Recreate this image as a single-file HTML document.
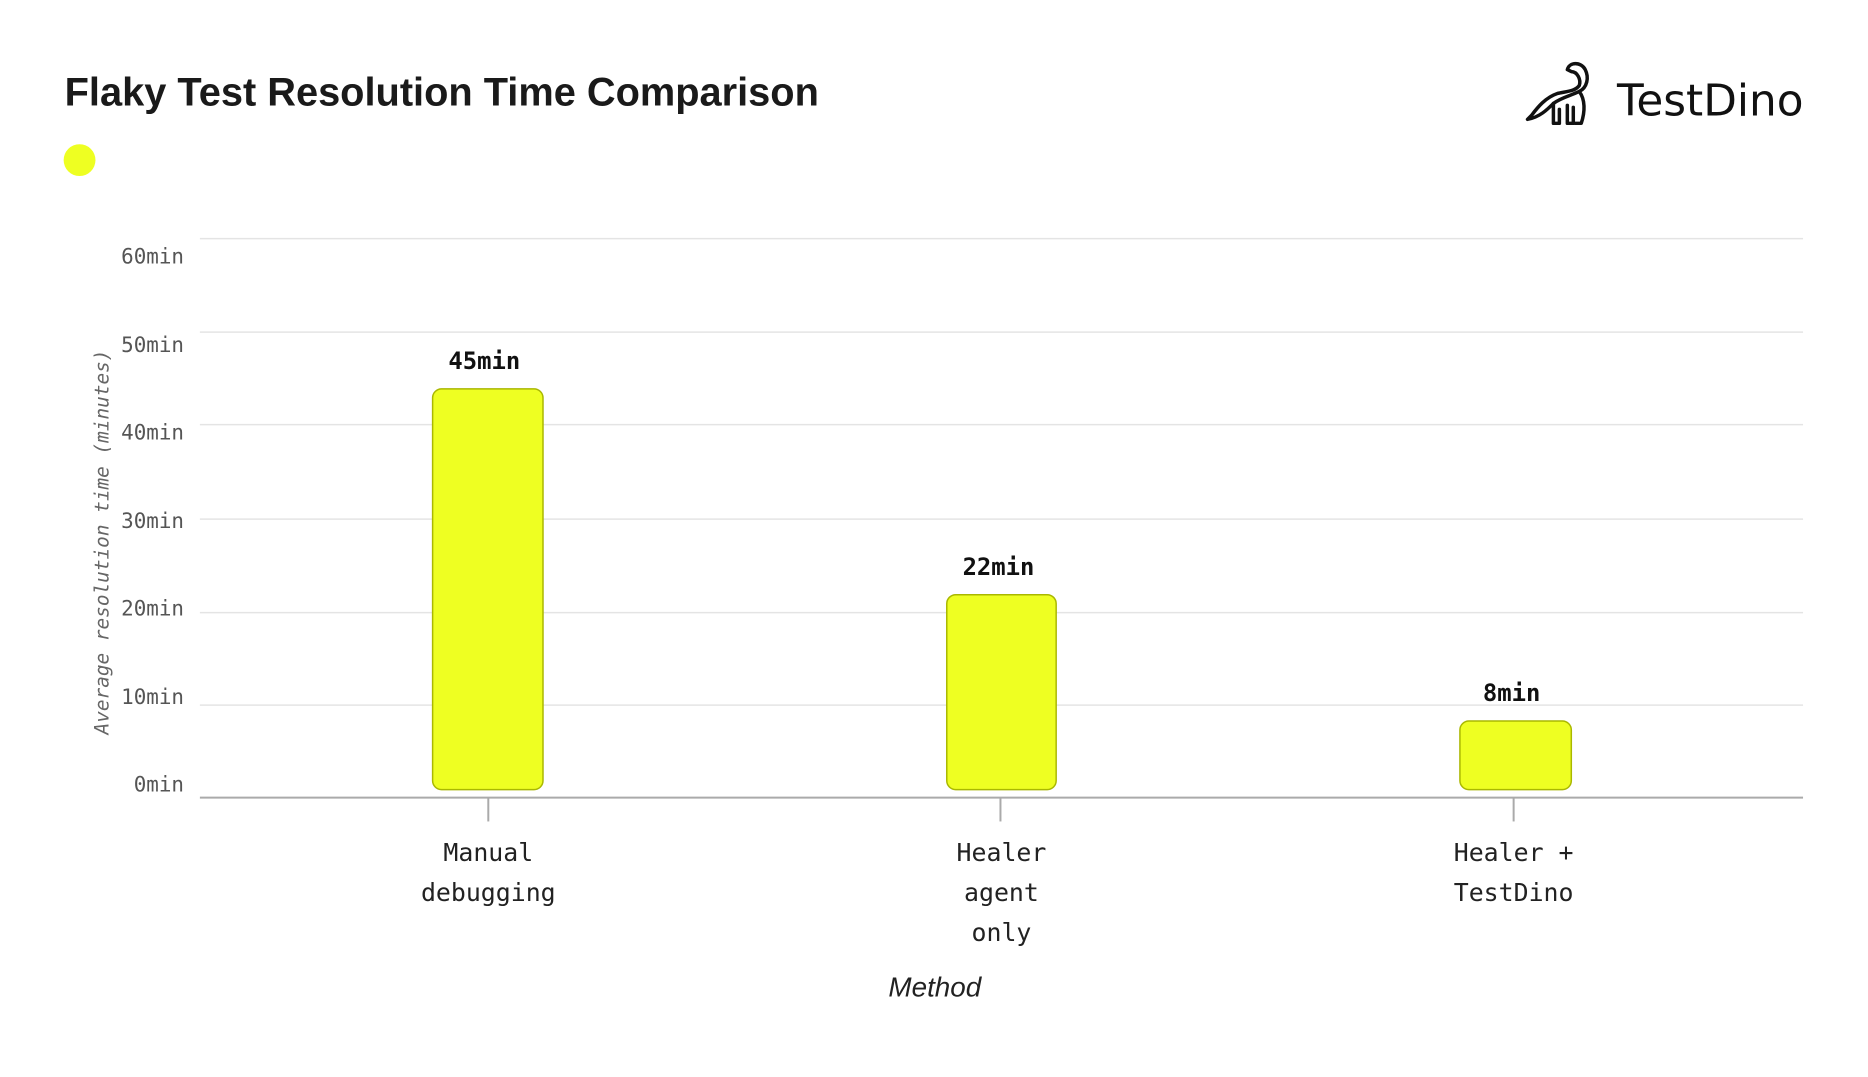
<!DOCTYPE html>
<html><head><meta charset="utf-8"><style>
html,body{margin:0;padding:0;background:#fff;}
</style></head><body>
<svg width="1868" height="1072" viewBox="0 0 1868 1072" xmlns="http://www.w3.org/2000/svg">
<rect width="1868" height="1072" fill="#fff"/>
<g transform="scale(0.9945)">
<text x="65" y="106" font-family="Liberation Sans, sans-serif" font-weight="bold" font-size="40" fill="#1a1a1a">Flaky Test Resolution Time Comparison</text>
<circle cx="80" cy="161" r="16" fill="#eeff22"/>
<g fill="none" stroke="#111" stroke-width="3.5" stroke-linecap="round" stroke-linejoin="round">
<path d="M1536 120 C1548 118 1556 110 1562 104 C1570 98 1580 96 1588 92 C1596 88 1598 78 1594 70 C1590 62 1578 62 1576 70 L1580 72 C1586 72 1590 80 1588 86 C1584 92 1574 92 1566 94 C1554 98 1546 108 1540 116 Z"/>
<path d="M1562 104 L1562 124 L1568 124 L1568 110 M1576 106 L1576 124 L1582 124 L1582 108 M1588 92 C1594 100 1594 112 1590 124 L1584 124"/>
</g>
<text x="1626" y="116" font-family="DejaVu Sans, sans-serif" font-size="44" fill="#111">TestDino</text>
<g stroke="#e4e4e4" stroke-width="1.5">
<line x1="201" x2="1813" y1="240" y2="240"/>
<line x1="201" x2="1813" y1="334" y2="334"/>
<line x1="201" x2="1813" y1="427" y2="427"/>
<line x1="201" x2="1813" y1="522" y2="522"/>
<line x1="201" x2="1813" y1="616" y2="616"/>
<line x1="201" x2="1813" y1="709" y2="709"/>
</g>
<line x1="201" x2="1813" y1="802" y2="802" stroke="#aaa" stroke-width="2"/>
<g stroke="#aaa" stroke-width="2">
<line x1="491" x2="491" y1="802" y2="826"/>
<line x1="1006" x2="1006" y1="802" y2="826"/>
<line x1="1522" x2="1522" y1="802" y2="826"/>
</g>
<g font-family="DejaVu Sans Mono, monospace" font-size="21" fill="#555" text-anchor="end">
<text x="185" y="265">60min</text>
<text x="185" y="354">50min</text>
<text x="185" y="442">40min</text>
<text x="185" y="531">30min</text>
<text x="185" y="619">20min</text>
<text x="185" y="708">10min</text>
<text x="185" y="796">0min</text>
</g>
<text transform="translate(109,545) rotate(-90)" text-anchor="middle" font-family="DejaVu Sans Mono, monospace" font-style="italic" font-size="19.5" fill="#666">Average resolution time (minutes)</text>
<g fill="#eeff22" stroke="#aab800" stroke-width="1.5">
<rect x="435" y="391" width="111" height="403" rx="9"/>
<rect x="952" y="598" width="110" height="196" rx="9"/>
<rect x="1468" y="725" width="112" height="69" rx="9"/>
</g>
<g font-family="DejaVu Sans Mono, monospace" font-weight="bold" font-size="24" fill="#111" text-anchor="middle">
<text x="487" y="371">45min</text>
<text x="1004" y="578">22min</text>
<text x="1520" y="705">8min</text>
</g>
<g font-family="DejaVu Sans Mono, monospace" font-size="25" fill="#222" text-anchor="middle">
<text x="491" y="866">Manual</text>
<text x="491" y="906">debugging</text>
<text x="1007" y="866">Healer</text>
<text x="1007" y="906">agent</text>
<text x="1007" y="946">only</text>
<text x="1522" y="866">Healer +</text>
<text x="1522" y="906">TestDino</text>
</g>
<text x="940" y="1002" text-anchor="middle" font-family="Liberation Sans, sans-serif" font-style="italic" font-size="28" fill="#222">Method</text>
</g>
</svg>
</body></html>
